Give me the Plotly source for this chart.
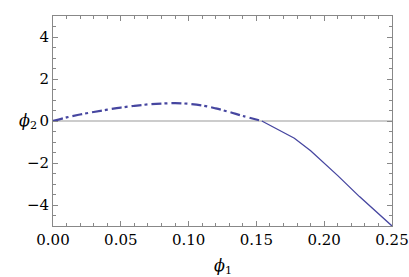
import plotly.graph_objects as go

# dashed (dash-dot) branch
x_dash = [0.0, 0.01, 0.02, 0.03, 0.04, 0.05, 0.06, 0.07, 0.08, 0.09, 0.10, 0.11, 0.12, 0.13, 0.14, 0.154]
y_dash = [0.0, 0.17, 0.31, 0.43, 0.54, 0.64, 0.72, 0.79, 0.83, 0.85, 0.82, 0.74, 0.60, 0.43, 0.24, 0.0]

# solid branch
x_solid = [0.154, 0.178, 0.19, 0.20, 0.21, 0.226, 0.25]
y_solid = [0.0, -0.82, -1.42, -2.0, -2.6, -3.6, -5.0]

x_ticks = [0.0, 0.05, 0.10, 0.15, 0.20, 0.25]
y_ticks = [-4, -2, 0, 2, 4]

color = "#4646a0"
font = "DejaVu Serif"

fig = go.Figure()
fig.add_trace(go.Scatter(x=[0, 0.25], y=[0, 0], mode="lines",
                         line=dict(color="#999999", width=1), hoverinfo="skip"))
fig.add_trace(go.Scatter(x=x_dash, y=y_dash, mode="lines",
                         line=dict(color=color, width=2.2, dash="10px,3px,3px,4px", shape="spline")))
fig.add_trace(go.Scatter(x=x_solid, y=y_solid, mode="lines",
                         line=dict(color=color, width=1.3)))

axis_common = dict(showgrid=False, zeroline=False, showline=True, linecolor="#888888",
                   linewidth=1, mirror="ticks", ticks="inside", tickcolor="#888888",
                   ticklen=5, tickwidth=1, automargin=False,
                   tickfont=dict(family=font, size=15, color="black"))

fig.update_xaxes(range=[0, 0.25], tickvals=x_ticks, tickformat=".2f",
                 minor=dict(dtick=0.01, ticks="inside", ticklen=3, tickcolor="#888888"),
                 **axis_common)
fig.update_yaxes(range=[-5, 5], tickvals=y_ticks,
                 minor=dict(dtick=0.5, ticks="inside", ticklen=3, tickcolor="#888888"),
                 **axis_common)

fig.add_annotation(x=-0.107, y=0.5, xref="paper", yref="paper", text="<i>ϕ</i><sub>2</sub>",
                   showarrow=False, font=dict(family=font, size=16, color="black"))
fig.add_annotation(x=0.5, y=-0.195, xref="paper", yref="paper", text="<i>ϕ</i><sub>1</sub>",
                   showarrow=False, yanchor="middle", font=dict(family=font, size=16, color="black"))

fig.update_layout(width=409, height=277, margin=dict(l=53, r=17, t=16, b=51, autoexpand=False),
                  font=dict(family=font),
                  paper_bgcolor="white", plot_bgcolor="white", showlegend=False)

fig.write_html("out.html", config={"displayModeBar": False},
               post_script="document.body.style.margin='0';")
